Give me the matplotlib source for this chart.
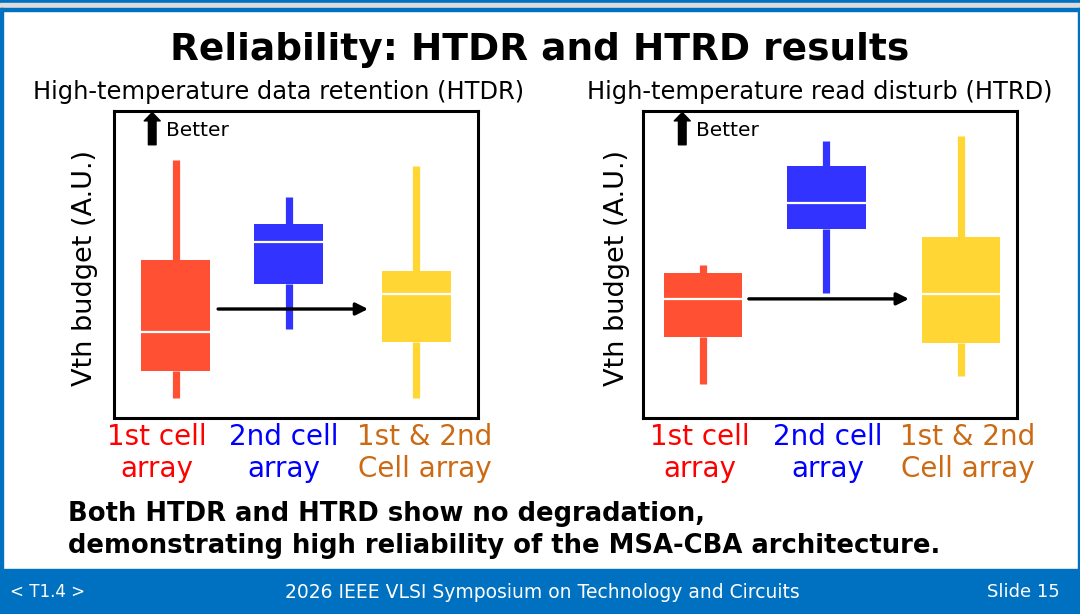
import matplotlib.pyplot as plt
from matplotlib.patches import Rectangle

# --- data (Vth budget, A.U., 0..100 scale) ---
categories = ["1st cell\narray", "2nd cell\narray", "1st & 2nd\nCell array"]
label_colors = ["#FF0000", "#0000FF", "#CC6A14"]
box_colors = ["#FF5033", "#3333FF", "#FFD633"]

htdr_low = [6.5, 29.0, 6.5]
htdr_q1 = [15.3, 43.6, 24.8]
htdr_med = [28.0, 57.3, 40.4]
htdr_q3 = [51.5, 63.2, 47.9]
htdr_high = [84.0, 72.0, 82.1]
htdr_arrow_level = 35.5

htrd_low = [11.1, 40.7, 13.7]
htrd_q1 = [26.4, 61.6, 24.4]
htrd_med = [38.8, 70.0, 40.4]
htrd_q3 = [47.2, 82.1, 59.0]
htrd_high = [49.8, 90.2, 91.9]
htrd_arrow_level = 38.8

FONT = "DejaVu Sans"
plt.rcParams["font.family"] = FONT

W, H = 1080, 614
fig = plt.figure(figsize=(W / 100, H / 100), dpi=100)
blue = "#0070C0"

# slide decoration (figure pixel coords -> fractions)
def px_rect(x0, y0, x1, y1, color):
    fig.patches.append(Rectangle((x0 / W, 1 - y1 / H), (x1 - x0) / W, (y1 - y0) / H,
                                 transform=fig.transFigure, color=color, zorder=0))

px_rect(0, 0, W, 3, blue)
px_rect(0, 3, W, 8, "#DCDCDC")
px_rect(0, 8, W, 11, blue)
px_rect(0, 8, 3, H, blue)
px_rect(W - 2, 8, W, H, blue)
px_rect(0, 569, W, H, blue)

fig.text(0.5, 1 - 50 / H, "Reliability: HTDR and HTRD results", ha="center", va="center",
         fontsize=27, fontweight="bold")

fig.text(10 / W, 1 - 592 / H, "< T1.4 >", color="white", fontsize=12, va="center")
fig.text(542 / W, 1 - 592 / H, "2026 IEEE VLSI Symposium on Technology and Circuits",
         color="white", fontsize=13.5, va="center", ha="center")
fig.text(1060 / W, 1 - 592 / H, "Slide 15", color="white", fontsize=13, va="center", ha="right")

fig.text(68 / W, 1 - 530 / H,
         "Both HTDR and HTRD show no degradation,\ndemonstrating high reliability of the MSA-CBA architecture.",
         fontsize=18.6, fontweight="bold", va="center", ha="left", linespacing=1.3)


def draw_panel(frame, centers, width, lows, q1s, meds, q3s, highs, arrow_level, arrow_x,
               title, title_x, ylabel_x, label_xs):
    x0, y0, x1, y1 = frame
    ax = fig.add_axes([x0 / W, 1 - y1 / H, (x1 - x0) / W, (y1 - y0) / H])
    stats = []
    for lo, a, m, b, hi in zip(lows, q1s, meds, q3s, highs):
        stats.append(dict(whislo=lo, q1=a, med=m, q3=b, whishi=hi, fliers=[]))
    bp = ax.bxp(stats, positions=centers, widths=width, patch_artist=True, showcaps=False,
                showfliers=False, manage_ticks=False,
                medianprops=dict(color="white", linewidth=1.6))
    for i, patch in enumerate(bp["boxes"]):
        patch.set_facecolor(box_colors[i])
        patch.set_edgecolor("none")
        patch.set_zorder(2)
    for j, wh in enumerate(bp["whiskers"]):
        wh.set_color(box_colors[j // 2])
        wh.set_linewidth(5.2)
        wh.set_solid_capstyle("butt")
        wh.set_zorder(1)
    for md in bp["medians"]:
        md.set_zorder(3)

    ax.set_xlim(0, 1)
    ax.set_ylim(0, 100)
    ax.set_xticks([])
    ax.set_yticks([])
    for s in ax.spines.values():
        s.set_linewidth(2.2)

    # horizontal comparison arrow
    ax.annotate("", xy=(arrow_x[1], arrow_level), xytext=(arrow_x[0], arrow_level),
                arrowprops=dict(arrowstyle="-|>", color="black", lw=2.4, mutation_scale=18,
                                shrinkA=0, shrinkB=0), zorder=4)

    # "Better" indicator
    ax.annotate("", xy=(0.105, 0.995), xytext=(0.105, 0.89), xycoords="axes fraction",
                arrowprops=dict(width=5.5, headwidth=11.5, headlength=6, color="black", shrink=0))
    ax.text(0.142, 0.935, "Better", transform=ax.transAxes, fontsize=14.5, va="center")

    fig.text(title_x / W, 1 - 92 / H, title, fontsize=17.4, ha="center", va="center")
    fig.text(ylabel_x / W, 1 - 268 / H, "Vth budget (A.U.)", rotation=90, fontsize=19.5,
             ha="center", va="center")
    for lx, lab, col in zip(label_xs, categories, label_colors):
        fig.text(lx / W, 1 - 453 / H, lab, color=col, fontsize=20, ha="center", va="center",
                 linespacing=1.2)
    return ax


draw_panel((114, 111, 478, 418), [0.17, 0.48, 0.83], 0.19,
           htdr_low, htdr_q1, htdr_med, htdr_q3, htdr_high, htdr_arrow_level, (0.286, 0.698),
           "High-temperature data retention (HTDR)", 279, 85, [157, 284, 425])
draw_panel((643, 111, 1017, 418), [0.16, 0.49, 0.85], 0.21,
           htrd_low, htrd_q1, htrd_med, htrd_q3, htrd_high, htrd_arrow_level, (0.283, 0.711),
           "High-temperature read disturb (HTRD)", 820, 617, [700, 828, 968])

fig.savefig("out.png", dpi=100)
